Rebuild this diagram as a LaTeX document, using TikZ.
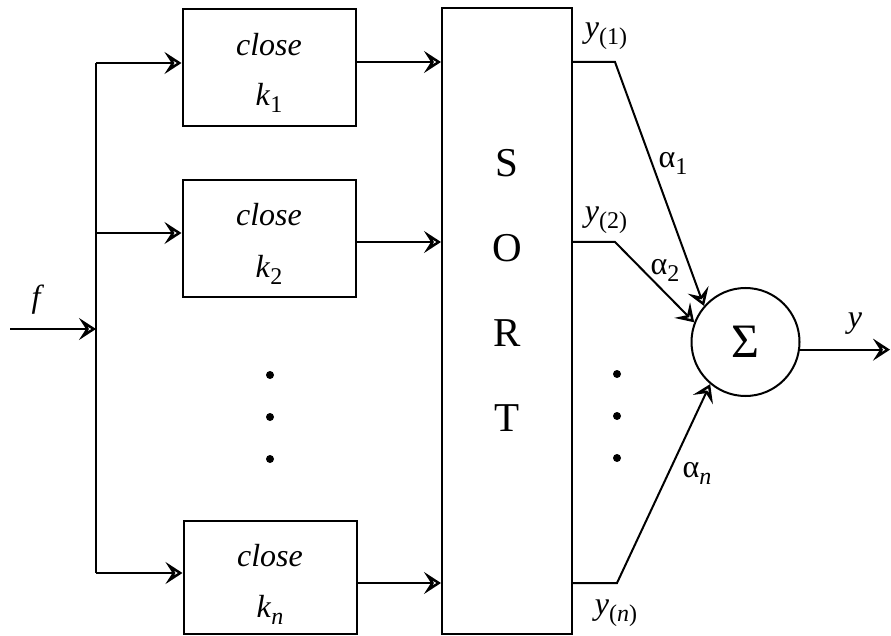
\documentclass[tikz,border=0pt]{standalone}
\usepackage{fontspec}
\setmainfont{Liberation Serif}
\usetikzlibrary{arrows.meta,calc}
\newcommand{\mysub}[2]{#1\raisebox{-7pt}{\fontsize{24}{24}\selectfont #2}}
\begin{document}
\begin{tikzpicture}[x=1pt,y=-1pt,
  line width=2pt,
  arr/.style={-{Stealth[open,length=17pt,width=22pt,inset=7pt,line width=3pt]}},
  blk/.style={draw,rectangle,inner sep=0pt,minimum width=173pt,minimum height=117pt},
  lab/.style={font=\fontsize{32}{36}\selectfont, inner sep=0pt},
  big/.style={font=\fontsize{41}{41}\selectfont, inner sep=0pt},
  dot/.style={circle,fill,inner sep=0pt,minimum size=8pt},
]
\useasboundingbox (0,0) rectangle (891,636);

% blocks
\node[blk] (b1) at (269,67.5) {};
\node[blk] (b2) at (269,238.5) {};
\node[blk,minimum height=113pt] (bn) at (270,577.5) {};
\node[draw,inner sep=0pt,minimum width=130pt,minimum height=626pt] (sort) at (507,321) {};
\node[draw,circle,inner sep=0pt,minimum size=108pt,font=\fontsize{48}{48}\selectfont] (sig) at (745.5,342) {Σ};

% block texts
\node[lab] (t1) at (269,45) {\textit{close}};
\node[lab] (k1) at (269,98) {\mysub{\textit{k}}{1}};
\node[lab] (t2) at (269,215) {\textit{close}};
\node[lab] (k2) at (269,270) {\mysub{\textit{k}}{2}};
\node[lab] (tn) at (270,556) {\textit{close}};
\node[lab] (kn) at (270,610) {\mysub{\textit{k}}{\textit{n}}};

% SORT letters
\node[big] (s1) at (507,163) {S};
\node[big] (s2) at (507,248) {O};
\node[big] (s3) at (507,333) {R};
\node[big] (s4) at (507,418) {T};

% dots
\node[dot] (dl1) at (270,375) {};
\node[dot] (dl2) at (270,417) {};
\node[dot] (dl3) at (270,459) {};
\node[dot] (dr1) at (617,374) {};
\node[dot] (dr2) at (617,416) {};
\node[dot] (dr3) at (617,458) {};

% input side
\coordinate (fin) at (10,329);
\coordinate (fbus) at (96,329);
\coordinate (btop) at (96,63);
\coordinate (bmid) at (96,233);
\coordinate (bbot) at (96,573);
\draw (btop) -- (bbot);
\draw[arr] (fin) -- (fbus);
\draw[arr] (btop) -- (btop -| b1.west);
\draw[arr] (bmid) -- (bmid -| b2.west);
\draw[arr] (bbot) -- (bbot -| bn.west);

% block outputs into SORT
\coordinate (o1) at (615,62);
\coordinate (o2) at (615,242);
\coordinate (on) at (617,583);
\draw[arr] (o1 -| b1.east) -- (o1 -| sort.west);
\draw[arr] (o2 -| b2.east) -- (o2 -| sort.west);
\draw[arr] (on -| bn.east) -- (on -| sort.west);

% SORT outputs into sum
\draw[arr] (o1 -| sort.east) -- (o1) -- (sig.139);
\draw[arr] (o2 -| sort.east) -- (o2) -- (sig.159);
\draw[arr] (on -| sort.east) -- (on) -- (sig.230);

% output
\coordinate (yend) at (890,350);
\draw[arr] (sig.-8) -- (sig.-8 -| yend);

% labels
\node[lab] (lf) at (38,300) {\textit{f}};
\node[lab] (ly) at (855,324) {\textit{y}};
\node[lab] (ly1) at (606,36) {\mysub{\textit{y}}{(1)}};
\node[lab] (ly2) at (606,220) {\mysub{\textit{y}}{(2)}};
\node[lab] (lyn) at (616,613) {\mysub{\textit{y}}{(\textit{n})}};
\node[lab] (la1) at (673,163) {\mysub{α}{1}};
\node[lab] (la2) at (665,270) {\mysub{α}{2}};
\node[lab] (lan) at (697,473) {\mysub{α}{\textit{n}}};
\end{tikzpicture}
\end{document}
